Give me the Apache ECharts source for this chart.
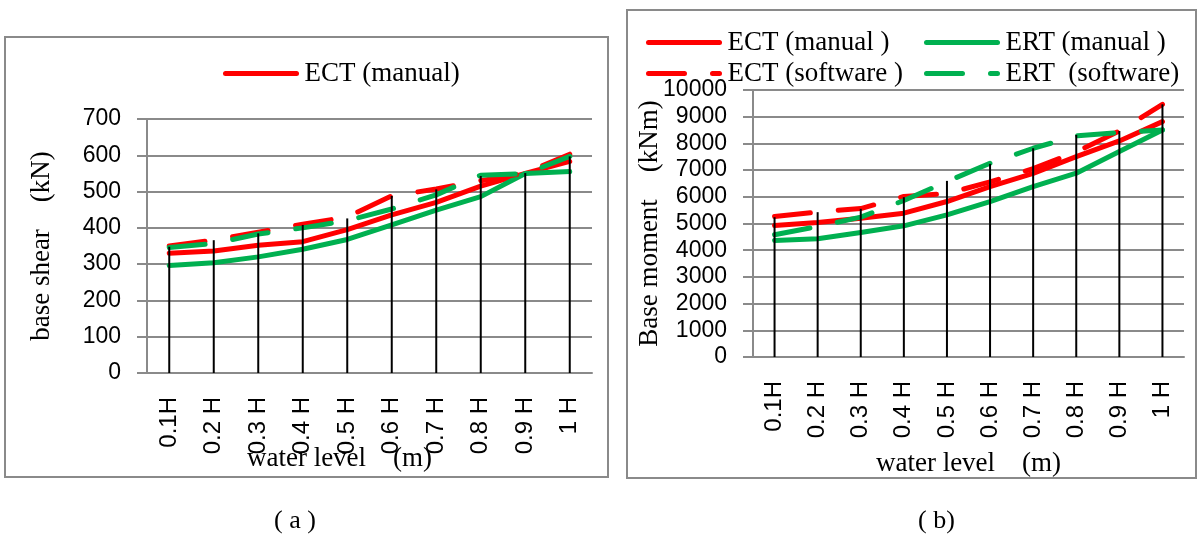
<!DOCTYPE html>
<html>
<head>
<meta charset="utf-8">
<script src="https://cdn.jsdelivr.net/npm/echarts@6/dist/echarts.min.js"></script>
<style>
html,body{margin:0;padding:0;background:#fff;}
#c{width:1199px;height:538px;}
</style>
</head>
<body>
<div id="c"></div>
<script>
// ---------- data ----------
var categories = ['0.1H', '0.2 H', '0.3 H', '0.4 H', '0.5 H', '0.6 H', '0.7 H', '0.8 H', '0.9 H', '1 H'];

// (a) base shear (kN)
var ectManualShear = [330, 336, 352, 362, 395, 436, 470, 515, 550, 583];
var ertManualShear = [296, 304, 320, 341, 368, 408, 449, 486, 550, 555];
var ectSoftShear   = [350, 366, 388, 410, 430, 488, 507, 530, 551, 603];
var ertSoftShear   = [346, 357, 383, 400, 420, 452, 491, 545, 549, 597];
var dropShear      = [348, 366, 385, 408, 426, 488, 506, 543, 551, 597];

// (b) base moment (kNm)
var ectManualMoment = [4925, 5037, 5200, 5387, 5823, 6384, 6880, 7506, 8092, 8815];
var ertManualMoment = [4364, 4426, 4663, 4913, 5324, 5823, 6384, 6883, 7693, 8504];
var ectSoftMoment   = [5262, 5436, 5560, 6010, 6122, 6559, 7057, 7680, 8466, 9464];
var ertSoftMoment   = [4576, 4888, 5237, 5860, 6571, 7257, 7818, 8279, 8404, 8504];
var dropMoment      = [5237, 5424, 5549, 5985, 6596, 7232, 7818, 8317, 8466, 9464];

var shearTicks = {min: 0, max: 700, interval: 100};
var momentTicks = {min: 0, max: 10000, interval: 1000};

// ---------- style ----------
var RED = '#FF0000', GREEN = '#00B050', GRAY = '#8a8a8a';
var SANS = "'Liberation Sans', Arial, sans-serif";
var SERIF = "'Liberation Serif', 'Times New Roman', serif";
var DASH = [36, 28];

function lineSeries(name, data, color, dashed, gi) {
  return {
    type: 'line', name: name, data: data,
    xAxisIndex: gi, yAxisIndex: gi,
    symbol: 'none', smooth: false, z: 2,
    lineStyle: {color: color, width: 5, type: dashed ? DASH : 'solid', cap: 'round', join: 'round'},
    itemStyle: {color: color},
    emphasis: {disabled: true}
  };
}
function dropSeries(name, data, gi) {
  return {
    type: 'bar', name: name, data: data,
    xAxisIndex: gi, yAxisIndex: gi,
    barWidth: 2, itemStyle: {color: '#000'}, z: 3,
    emphasis: {disabled: true}
  };
}
function xAxis(gi, nameTop, padLeft) {
  return {
    type: 'category', gridIndex: gi, data: categories, boundaryGap: true,
    axisLine: {show: true, lineStyle: {color: GRAY, width: 2}},
    axisTick: {show: false},
    axisLabel: {rotate: 90, margin: 24, fontSize: 24, fontFamily: SANS, color: '#000', interval: 0},
    name: 'water level    (m)', nameLocation: 'middle', nameGap: nameTop, nameMoveOverlap: false,
    nameTextStyle: {fontSize: 27, fontFamily: SERIF, color: '#000', padding: [0, padLeft, 0, 0]}
  };
}
function yAxis(gi, t, name, gap) {
  return {
    type: 'value', gridIndex: gi, min: t.min, max: t.max, interval: t.interval,
    axisLine: {show: true, lineStyle: {color: GRAY, width: 2}},
    axisTick: {show: true, length: 10, inside: false, lineStyle: {color: GRAY, width: 2}},
    splitLine: {show: true, lineStyle: {color: GRAY, width: 2}},
    axisLabel: {fontSize: 23, fontFamily: SANS, color: '#000', margin: 26,
                formatter: function (v) { return String(v); }},
    name: name, nameLocation: 'middle', nameRotate: 90, nameGap: gap, nameMoveOverlap: false,
    nameTextStyle: {fontSize: 27, fontFamily: SERIF, color: '#000'}
  };
}
var legendText = {fontSize: 27, fontFamily: SERIF, color: '#000', padding: [0, 0, 0, 3]};
var legendCommon = {
  itemWidth: 71, itemHeight: 14, textStyle: legendText, selectedMode: false,
  itemStyle: {opacity: 0},
  lineStyle: {width: 5, cap: 'round'}
};
function legend(extra) { return Object.assign({}, legendCommon, extra); }

var chart = echarts.init(document.getElementById('c'), null, {renderer: 'canvas'});
chart.setOption({
  animation: false,
  backgroundColor: '#fff',
  grid: [
    {left: 147, top: 119, width: 445, height: 254, containLabel: false, outerBoundsMode: 'none'},
    {left: 753, top: 90, width: 431, height: 267, containLabel: false, outerBoundsMode: 'none'}
  ],
  xAxis: [xAxis(0, 72, 60), xAxis(1, 93, 0)],
  yAxis: [yAxis(0, shearTicks, 'base shear    (kN)', 92), yAxis(1, momentTicks, 'Base moment    (kNm)', 90)],
  legend: [
    legend({data: ['ECT (manual)'], left: 218, top: 55, orient: 'horizontal'}),
    legend({data: ['ECT (manual )', 'ECT (software )'], left: 641, top: 24, orient: 'vertical', itemGap: 4}),
    legend({data: ['ERT (manual )', 'ERT  (software)'], left: 919, top: 24, orient: 'vertical', itemGap: 4})
  ],
  graphic: [
    {type: 'rect', shape: {x: 5, y: 37, width: 603, height: 440}, style: {fill: 'none', stroke: GRAY, lineWidth: 2}, silent: true},
    {type: 'rect', shape: {x: 627, y: 10, width: 569, height: 468}, style: {fill: 'none', stroke: GRAY, lineWidth: 2}, silent: true},
    {type: 'text', left: 274, top: 508, style: {text: '( a )', font: "26px 'Liberation Serif', serif", fill: '#000'}, silent: true},
    {type: 'text', left: 918, top: 508, style: {text: '( b)', font: "26px 'Liberation Serif', serif", fill: '#000'}, silent: true}
  ],
  series: [
    lineSeries('ECT (manual)', ectManualShear, RED, false, 0),
    lineSeries('ERT (manual)', ertManualShear, GREEN, false, 0),
    lineSeries('ECT (software)', ectSoftShear, RED, true, 0),
    lineSeries('ERT (software)', ertSoftShear, GREEN, true, 0),
    dropSeries('shear drop', dropShear, 0),
    lineSeries('ECT (manual )', ectManualMoment, RED, false, 1),
    lineSeries('ERT (manual )', ertManualMoment, GREEN, false, 1),
    lineSeries('ECT (software )', ectSoftMoment, RED, true, 1),
    lineSeries('ERT  (software)', ertSoftMoment, GREEN, true, 1),
    dropSeries('moment drop', dropMoment, 1)
  ]
});
</script>
</body>
</html>
